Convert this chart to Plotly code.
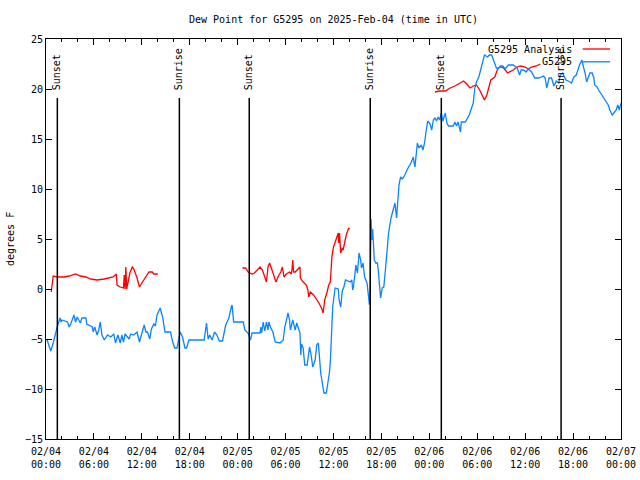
import pandas as pd
import plotly.graph_objects as go
from datetime import datetime, timedelta

START = datetime(2025, 2, 4)

title_text = "Dew Point for G5295 on 2025-Feb-04 (time in UTC)"
y_label = "degrees F"

# G5295 observations: hours since 2025-02-04 00:00 UTC, dew point (F)
obs_hours = [0.1, 0.6, 0.9, 1.2, 1.4, 1.75, 1.9, 2.0, 2.7, 2.9, 3.1, 3.5, 3.7, 3.9, 4.3, 4.5, 5.0, 5.1, 5.8, 5.9,
             6.1, 6.4, 6.6, 6.8, 7.0, 7.3, 7.7, 8.1, 8.5, 8.7, 9.0, 9.3, 9.5, 9.7, 9.9, 10.4, 10.6, 11.0, 11.4, 11.7,
             12.0, 12.3, 12.5, 12.7, 13.0, 13.2, 13.5, 13.7, 13.9, 14.3, 14.6, 14.8, 14.9, 15.6, 15.8, 16.1, 16.4, 16.8, 17.1, 17.4,
             17.6, 17.9, 19.8, 20.1, 20.3, 20.5, 20.8, 21.1, 21.4, 21.7, 22.1, 22.5, 22.9, 23.2, 23.3, 23.5, 24.7,
             24.9, 25.3, 25.6, 25.8, 26.8, 26.9, 27.0, 27.2, 27.4, 27.6, 27.8, 27.9, 28.1, 28.4, 28.7, 29.3, 29.7, 29.9, 30.2, 30.3,
             30.5, 30.6, 30.9, 31.2, 31.4, 31.6, 31.8, 31.9, 32.0, 32.2, 32.4, 32.7, 33.0, 33.2, 33.4, 33.7, 33.9, 34.1, 34.2, 34.4,
             34.6, 34.8, 35.1, 35.3, 35.5, 35.6, 35.9, 36.2, 36.6, 36.7, 36.9, 37.1, 37.3, 37.5, 38.1, 38.3, 38.4, 38.5, 38.7, 38.8,
             39.0, 39.2, 39.4, 39.5, 39.7, 39.9, 40.2, 40.3, 40.4, 40.5, 40.6, 40.7, 40.8, 40.9, 41.0, 41.1, 41.3, 41.5, 41.6, 41.8,
             41.9, 42.1, 42.3, 42.5, 42.7, 42.9, 43.2, 43.5, 43.7, 43.9, 44.0, 44.1, 44.2, 44.4, 44.6, 44.8, 45.0, 45.4, 45.7, 46.0,
             46.1, 46.2, 46.3, 46.5, 46.7, 47.0, 47.2, 47.4, 47.6, 47.8, 48.1, 48.3, 48.5, 48.7, 48.9, 49.1, 49.3, 49.5, 49.7, 50.0,
             50.2, 50.4, 51.0, 51.2, 51.4, 51.6, 51.9, 52.0, 52.5, 52.7, 53.0, 53.2, 53.5, 53.7, 53.9, 54.2, 54.6, 54.9, 55.3, 55.5,
             55.8, 56.0, 56.2, 56.4, 56.6, 56.9, 57.2, 57.5, 57.9, 58.5, 59.0, 59.3, 59.5, 59.8, 60.1, 60.4, 60.8, 61.2, 61.7, 62.3,
             62.5, 62.7, 63.0, 63.3, 63.6, 63.9, 64.2, 64.4, 64.7, 65.1, 65.4, 65.8, 66.1, 66.4, 66.8, 67.1, 67.3, 67.5, 67.7, 67.9,
             68.1, 68.4, 68.6, 68.7, 69.0, 69.2, 69.6, 70.0, 70.4, 70.6, 70.9, 71.2, 71.4, 71.6, 71.8, 72.0]
obs_values = [-5.0, -6.2, -5.4, -4.3, -3.8, -2.9, -3.3, -3.1, -3.3, -3.8, -3.5, -2.6, -3.3, -2.8, -3.4, -2.9, -2.9, -3.5, -3.8, -4.3,
              -3.8, -4.6, -4.1, -3.3, -4.6, -5.1, -4.6, -4.8, -4.5, -5.4, -4.6, -5.4, -4.6, -5.3, -4.5, -5.0, -4.5, -4.6, -4.3, -5.3,
              -4.3, -3.6, -4.3, -4.3, -5.0, -4.0, -3.5, -3.7, -2.6, -1.9, -2.8, -3.6, -4.3, -4.3, -5.1, -5.9, -5.9, -4.3, -4.8, -5.9,
              -5.9, -5.1, -5.1, -3.4, -5.0, -4.6, -5.1, -4.3, -4.6, -5.2, -5.2, -3.6, -2.9, -1.8, -1.6, -3.3, -3.3,
              -4.1, -4.4, -5.1, -4.4, -4.4, -3.8, -4.4, -3.3, -4.2, -3.3, -4.1, -3.3, -3.8, -4.3, -5.3, -5.4, -5.1, -3.8, -2.8, -2.4,
              -3.1, -4.1, -3.1, -4.1, -3.4, -3.8, -4.4, -6.6, -5.5, -5.9, -7.6, -7.6, -5.8, -6.6, -7.8, -7.1, -5.6, -5.4, -6.4, -8.4,
              -9.4, -10.4, -10.4, -9.4, -8.3, -7.3, -1.8, 0.1, 0.0, -1.1, -1.8, -0.2, 0.2, 0.9, 0.7, 0.9, -0.1, 0.2, 1.4, 2.4,
              1.6, 3.6, 2.9, 2.1, 2.6, 1.2, 0.6, -0.4, -1.1, -1.6, 0.6, 7.0, 4.9, 6.0, 4.6, 2.9, 2.6, 2.6, 1.9, -0.3,
              -0.9, 0.1, 0.2, 1.9, 3.6, 5.6, 7.1, 7.9, 8.6, 7.1, 8.6, 9.2, 10.4, 11.2, 11.0, 11.2, 11.6, 12.2, 12.6, 13.2,
              12.6, 12.2, 13.0, 14.6, 14.1, 14.4, 13.9, 14.6, 15.8, 16.8, 16.5, 15.9, 16.9, 17.1, 16.8, 17.2, 16.9, 17.6, 16.8, 17.6,
              16.6, 16.3, 16.3, 16.7, 16.3, 16.7, 15.7, 16.7, 16.7, 17.0, 17.4, 17.9, 18.6, 20.1, 20.7, 21.2, 22.4, 23.4, 23.2, 23.4,
              23.4, 22.9, 22.6, 22.1, 22.0, 22.3, 22.3, 22.0, 22.4, 22.4, 22.1, 21.4, 21.9, 21.9, 21.7, 22.0, 21.7, 21.1, 21.1, 21.3,
              21.1, 20.1, 21.1, 21.1, 20.3, 20.8, 20.6, 21.4, 21.6, 20.9, 20.8, 20.6, 21.2, 21.4, 22.4, 22.9, 22.2, 21.6, 20.7, 21.2,
              21.6, 21.6, 21.1, 20.4, 20.2, 19.9, 19.4, 18.9, 18.4, 17.9, 17.4, 17.7, 17.9, 18.4, 17.9, 18.6]

# G5295 Analysis: three separate runs (None = gap)
ana_hours = [0.66, 0.75, 0.9, 1.4, 2.3, 2.9, 3.7, 4.3, 5.0, 5.6, 6.4, 7.3, 7.9, 8.4, 8.8, 8.9, 9.3, 9.7, 9.8, 9.9,
             10.0, 10.1, 10.3, 10.5, 10.8, 11.0, 11.4, 11.7, 12.0, 12.5, 12.9, 13.3, 13.5, 14.0,
             None,
             24.6, 25.0, 25.3, 25.8, 26.1, 26.4, 26.8, 27.1, 27.4, 27.6, 27.8, 28.0, 28.3, 28.5, 28.8, 29.1, 29.4, 29.6, 29.8, 30.1,
             30.5, 30.7, 30.8, 30.9, 31.0, 31.2, 31.4, 31.8, 31.85, 32.2, 32.6, 32.8, 32.9, 33.1, 33.5, 33.8, 34.1, 34.3, 34.5, 34.7,
             34.9, 35.2, 35.4, 35.6, 35.8, 36.0, 36.3, 36.6, 36.65, 36.75, 36.9, 37.1, 37.2, 37.4, 37.6, 37.9, 38.0,
             None,
             48.7, 49.3, 50.0, 50.6, 51.2, 51.6, 52.3, 52.7, 53.1, 53.5, 53.9, 54.3, 54.7, 54.9, 55.2, 55.4, 55.7, 56.2, 56.6, 56.9,
             57.3, 57.8, 58.1, 58.5, 59.0, 59.4, 60.0, 60.4, 60.8, 61.4, 61.9]
ana_values = [-0.3, 0.2, 1.3, 1.2, 1.2, 1.3, 1.5, 1.3, 1.2, 1.0, 0.9, 1.0, 1.1, 1.2, 1.5, 0.4, 0.2, 0.1, 1.4, 0.0,
              2.2, 0.0, 0.8, 1.6, 2.2, 2.0, 1.1, 0.2, 0.6, 1.2, 1.7, 1.7, 1.5, 1.5,
              None,
              2.1, 2.1, 1.7, 1.5, 1.6, 1.9, 2.2, 1.9, 1.2, 0.7, 2.2, 2.6, 1.9, 1.4, 0.7, 1.3, 1.7, 2.2, 1.2, 1.5,
              1.7, 1.5, 1.9, 2.9, 1.7, 1.7, 1.9, 2.2, 1.1, 0.7, 0.4, -0.1, -0.8, -0.3, -0.6, -0.9, -1.3, -1.6, -1.9, -2.4,
              -1.1, -0.3, 0.4, 0.7, 3.2, 4.2, 4.9, 5.6, 4.6, 5.6, 3.6, 4.1, 3.9, 4.7, 5.4, 6.1, 6.0,
              None,
              19.7, 19.8, 19.8, 20.1, 20.3, 20.5, 20.8, 20.5, 20.1, 20.3, 20.4, 19.9, 19.2, 18.9, 19.4, 20.1, 20.9, 21.2, 22.1, 22.2,
              22.1, 21.6, 21.7, 21.9, 22.2, 22.3, 22.2, 22.0, 22.2, 22.3, 22.5]

# Sun events (hours since 2025-02-04 00:00 UTC)
sun_labels = ["Sunset", "Sunrise", "Sunset", "Sunrise", "Sunset", "Sunrise"]
sun_hours = [1.42, 16.7, 25.45, 40.6, 49.5, 64.5]

legend_names = ["G5295 Analysis", "G5295"]
RED = "#ff0000"
BLUE = "#0a84ff"
FONT = "DejaVu Sans Mono"


def to_time(h):
    return None if h is None else START + timedelta(hours=h)


fig = go.Figure()
for h in sun_hours:
    t = to_time(h)
    fig.add_shape(type="line", xref="x", yref="paper", x0=t, x1=t, y0=0, y1=0.8525,
                  line=dict(color="black", width=1.5), layer="above")
for lab, h in zip(sun_labels, sun_hours):
    fig.add_annotation(x=to_time(h), xref="x", y=0.8675, yref="paper", text=lab,
                       textangle=-90, showarrow=False, xanchor="center", yanchor="bottom",
                       font=dict(family=FONT, size=10, color="black"))

fig.add_trace(go.Scatter(x=[to_time(h) for h in ana_hours], y=ana_values, mode="lines",
                         name=legend_names[0], line=dict(color=RED, width=1.3),
                         connectgaps=False, showlegend=False))
fig.add_trace(go.Scatter(x=[to_time(h) for h in obs_hours], y=obs_values, mode="lines",
                         name=legend_names[1], line=dict(color=BLUE, width=1.3),
                         showlegend=False))

# manual legend (gnuplot style: text right, sample line to its right)
for i, (name, col) in enumerate(zip(legend_names, [RED, BLUE])):
    yy = 0.975 - i * 0.032
    fig.add_annotation(x=0.919, xref="paper", y=yy, yref="paper", text=name, showarrow=False,
                       xanchor="right", yanchor="middle", font=dict(family=FONT, size=10, color="black"))
    fig.add_shape(type="line", xref="paper", yref="paper", x0=0.9334, x1=0.981, y0=yy, y1=yy,
                  line=dict(color=col, width=1.3))

fig.add_annotation(x=-0.0626, xref="paper", y=0.5, yref="paper", text=y_label, textangle=-90,
                   showarrow=False, xanchor="center", yanchor="middle",
                   font=dict(family=FONT, size=10, color="black"))

fig.update_layout(
    width=640, height=480,
    margin=dict(l=46, r=19, t=39, b=41, autoexpand=False),
    paper_bgcolor="white", plot_bgcolor="white",
    font=dict(family=FONT, size=10, color="black"),
    title=dict(text=title_text, x=0.5, xref="paper", xanchor="center",
               y=1 - 19 / 480, yref="container", yanchor="middle",
               font=dict(family=FONT, size=10, color="black")),
    showlegend=False,
)
fig.update_xaxes(
    type="date", range=[START, START + timedelta(hours=72)], automargin=False,
    tick0=START, dtick=6 * 3600 * 1000, tickformat="%m/%d<br>%H:%M",
    ticks="inside", ticklen=6, tickcolor="black", tickwidth=1, ticklabelstandoff=3,
    minor=dict(dtick=2 * 3600 * 1000, ticks="inside", ticklen=3, tickcolor="black", showgrid=False),
    showline=True, linecolor="black", linewidth=1, mirror="allticks",
    showgrid=False, zeroline=False,
)
fig.update_yaxes(
    range=[-15, 25], dtick=5, tick0=0, automargin=False,
    ticks="inside", ticklen=6, tickcolor="black", tickwidth=1,
    showline=True, linecolor="black", linewidth=1, mirror="allticks",
    showgrid=False, zeroline=False,
)

fig.write_html("out.html", config={"displayModeBar": False},
               post_script="document.body.style.margin='0';document.body.style.overflow='hidden';")
